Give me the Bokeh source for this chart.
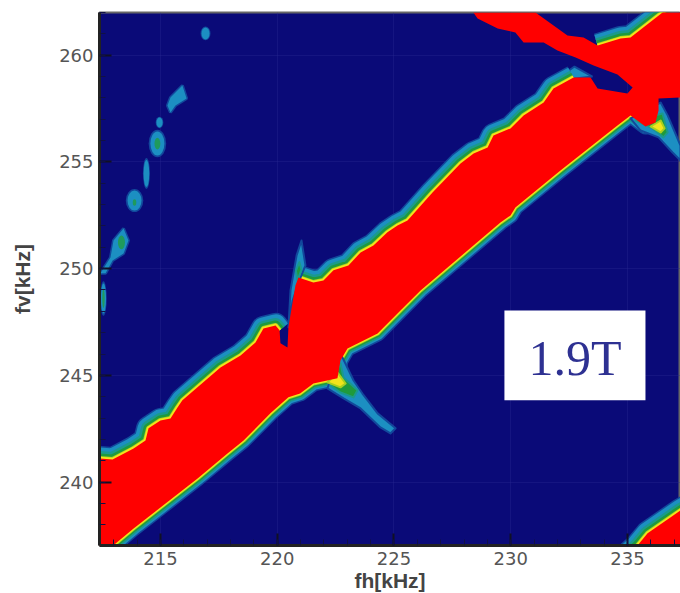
from bokeh.plotting import figure
from bokeh.models import FixedTicker
from bokeh.core.properties import value
from bokeh.embed import file_html
from bokeh.resources import INLINE

# fh [kHz] / fv [kHz] outlines of the saturated contour region
upper_left_x = [211.9,212.39,212.95,213.85,214.36,214.49,215.0,215.43,215.73,215.94,217.57,218.43,219.07,219.41,219.93,220.1]
upper_left_y = [240.9,241.11,241.06,241.58,241.95,242.52,242.89,242.98,243.5,243.83,245.37,245.93,246.54,247.2,247.34,247.11]
notch_x = [220.14,220.44,220.48,220.78]
notch_y = [246.5,246.31,247.25,249.21]
upper_right_x = [220.91,221.55,221.98,222.41,223.05,223.57,224.12,224.72,225.15,225.58,226.65,227.85,228.41,229.01,229.26,229.99,230.55,231.41,231.83,232.69]
upper_right_y = [249.59,249.35,249.45,249.92,250.15,250.76,251.09,251.7,252.02,252.26,253.57,254.93,255.4,255.68,256.24,256.57,257.18,257.78,258.44,258.96]
upper_tip_x = [233.42]
upper_tip_y = [258.96]
taper_x = [232.13,232.73,233.5,232.69]
taper_y = [259.0,259.47,259.0,258.9]
cross_x = [233.72,235.0,235.22,234.57,233.55,232.78,232.0,231.41,230.55,230.2,229.44,228.58,228.4,231.06,232.43,233.12]
cross_y = [258.44,258.21,258.49,259.1,259.52,259.89,260.22,260.59,260.59,261.06,261.25,261.72,262.0,262.0,260.92,260.83]
corner_top_x = [233.72,234.7,235.13,236.5,237.0]
corner_top_y = [260.45,260.78,260.83,262.0,262.5]
right_x = [237.27,237.27,236.33,236.33]
right_y = [262.0,258.02,257.97,257.41]
lower_right_x = [236.2,235.77,235.13,234.57,232.13,230.2,229.99,229.56,226.14,225.28,224.3,223.01,222.71,222.58]
lower_right_y = [256.85,256.66,257.18,256.71,254.6,252.87,252.49,252.16,248.98,248.04,246.96,246.26,245.7,244.86]
lower_left_x = [222.58,221.55,220.98,220.48,219.71,218.56,217.87,216.59,215.0,213.85,212.99,212.4]
lower_left_y = [244.86,244.62,244.15,243.97,243.22,241.95,241.34,240.17,238.81,237.83,237.04,236.5]
left_bottom_x = [211.9]
left_bottom_y = [236.5]

# second saturated region, lower right corner
corner_x = [234.9,235.43,235.86,236.85,237.27,237.8]
corner_y = [236.5,237.03,237.6,238.35,238.67,239.0]
corner_close_x = [237.8]
corner_close_y = [236.5]

# side spurs
spur_a_teal_x = [221.04,221.21,221.0,220.66,220.48,220.57,220.83]
spur_a_teal_y = [251.32,250.15,249.59,248.51,247.25,248.98,250.62]
spur_a_green_x = [220.95,221.04,220.87,220.8]
spur_a_green_y = [250.3,249.95,249.45,249.9]
spur_b_teal_x = [222.71,223.27,223.65,224.3,225.07,224.85,224.42,223.57,222.84,222.15]
spur_b_teal_y = [246.03,244.76,244.15,243.22,242.52,242.28,242.56,243.45,243.92,244.39]
spur_b_green_x = [222.71,222.84,223.44,223.27,222.71,222.28]
spur_b_green_y = [245.56,244.9,244.3,243.97,244.2,244.53]
spur_b_yellow_x = [222.58,222.93,222.71,222.15]
spur_b_yellow_y = [245.14,244.62,244.44,244.67]
spur_c_teal_x = [236.42,236.72,237.27,237.27,236.93,236.33,235.56,235.13]
spur_c_teal_y = [257.78,257.18,255.77,255.07,255.44,256.15,256.47,257.04]
spur_c_green_x = [236.5,236.72,236.54,236.07,235.35]
spur_c_green_y = [257.27,256.38,256.15,256.57,256.94]
spur_c_yellow_x = [236.42,236.59,236.42,235.99]
spur_c_yellow_y = [256.94,256.57,256.38,256.66]

# isolated weak line on the left
blob_x = [216.93,214.96,214.87,214.4,213.89,212.56]
blob_y = [261.02,256.85,255.86,254.46,253.19,248.6]
blob_w = [0.34,0.26,0.6,0.24,0.6,0.22]
blob_h = [0.56,0.47,1.12,1.26,0.94,1.4]
core_x = [214.87,213.89,213.33,212.56]
core_y = [255.86,253.1,251.23,248.6]
core_w = [0.25,0.15,0.3,0.1]
core_h = [0.55,0.3,0.65,0.9]
streak_a_x = [215.94,216.12,215.64,215.43,215.3,215.43]
streak_a_y = [258.58,257.97,257.64,257.32,257.64,258.02]
streak_b_x = [213.42,213.63,213.42,212.95,212.65,212.43,212.86,212.99]
streak_b_y = [251.88,251.32,250.71,250.38,249.78,249.78,250.52,251.32]

x_ticks = [215,220,225,230,235]
y_ticks = [240,245,250,255,260]
x_label = "fh[kHz]"
y_label = "fv[kHz]"
tag = "1.9T"
tag_left, tag_right, tag_bottom, tag_top = 229.73, 235.77, 243.83, 248.04

X0, X1, Y0, Y1 = 212.39, 237.27, 237.03, 262.0
NAVY = "#0a0a78"

p = figure(width=680, height=593, frame_width=581, frame_height=533, x_range=(X0, X1), y_range=(Y0, Y1),
           output_backend="svg", toolbar_location=None,
           min_border_left=99, min_border_right=0, min_border_top=12, min_border_bottom=48,
           background_fill_color=NAVY, border_fill_color="white")

p.xaxis.ticker = FixedTicker(ticks=x_ticks, minor_ticks=list(range(213, 238)))
p.yaxis.ticker = FixedTicker(ticks=y_ticks, minor_ticks=list(range(237, 263)))
p.xaxis.axis_label = x_label
p.yaxis.axis_label = y_label
for ax in (p.xaxis[0], p.yaxis[0]):
    ax.axis_line_color = "#222222"
    ax.axis_line_width = 3
    ax.major_tick_line_color = "#111122"
    ax.major_tick_line_width = 2
    ax.major_tick_in = 12
    ax.major_tick_out = 0
    ax.minor_tick_line_color = "#111144"
    ax.minor_tick_in = 6
    ax.minor_tick_out = 0
    ax.major_label_text_font = "DejaVu Sans"
    ax.major_label_text_font_size = "18px"
    ax.major_label_text_color = "#555555"
    ax.major_label_standoff = 6
    ax.axis_label_text_font = "Liberation Sans"
    ax.axis_label_text_font_size = "21px"
    ax.axis_label_text_font_style = "bold"
    ax.axis_label_text_color = "#444444"
p.xaxis[0].axis_label_standoff = 1
p.yaxis[0].axis_label_standoff = 22
p.yaxis[0].major_label_orientation = "horizontal"
p.xgrid.ticker = FixedTicker(ticks=x_ticks)
p.ygrid.ticker = FixedTicker(ticks=y_ticks)
p.grid.grid_line_color = "#2a2a92"
p.grid.grid_line_alpha = 0.35
p.outline_line_color = "#666666"
p.outline_line_width = 2

upper_edges = [(upper_left_x, upper_left_y), (upper_right_x, upper_right_y), (corner_top_x, corner_top_y), (corner_x, corner_y)]
lower_edges = [(lower_right_x, lower_right_y), (lower_left_x, lower_left_y)]

levels = [
    ("#12489c", 25, 16),
    ("#1c8fc2", 22, 13),
    ("#1a9a8c", 15, 10),
    ("#1f9a3c", 10, 7),
    ("#a8cf20", 5, 4),
    ("#f2e41c", 3.5, 2.5),
]
p.patch(taper_x, taper_y, fill_color="#1c8fc2", line_color="#12489c", line_width=2)
for color, w_up, w_low in levels:
    for ex, ey in upper_edges:
        p.line(ex, ey, line_color=color, line_width=w_up, line_join="round")
    for ex, ey in lower_edges:
        p.line(ex, ey, line_color=color, line_width=w_low, line_join="round")

p.ellipse(blob_x, blob_y, width=[w * 1.25 for w in blob_w], height=[h * 1.15 for h in blob_h], fill_color="#12489c", line_color=None)
p.patch(streak_a_x, streak_a_y, fill_color="#12489c", line_color="#12489c", line_width=3)
p.patch(streak_b_x, streak_b_y, fill_color="#12489c", line_color="#12489c", line_width=3)
p.ellipse(blob_x, blob_y, width=blob_w, height=blob_h, fill_color="#1c8fc2", line_color=None)
p.patch(streak_a_x, streak_a_y, fill_color="#1c8fc2", line_color=None)
p.patch(streak_b_x, streak_b_y, fill_color="#1c8fc2", line_color=None)
p.ellipse(core_x, core_y, width=core_w, height=core_h, fill_color="#1f9a5c", line_color=None)

for tx, ty in [(spur_a_teal_x, spur_a_teal_y), (spur_b_teal_x, spur_b_teal_y), (spur_c_teal_x, spur_c_teal_y)]:
    p.patch(tx, ty, fill_color="#1c8fc2", line_color="#12489c", line_width=2, line_join="round")
for gx, gy in [(spur_a_green_x, spur_a_green_y), (spur_b_green_x, spur_b_green_y), (spur_c_green_x, spur_c_green_y)]:
    p.patch(gx, gy, fill_color="#1f9a3c", line_color="#1a9a8c", line_width=2, line_join="round")
for yx, yy in [(spur_b_yellow_x, spur_b_yellow_y), (spur_c_yellow_x, spur_c_yellow_y)]:
    p.patch(yx, yy, fill_color="#f2e41c", line_color="#a8cf20", line_width=2, line_join="round")

red_x = (upper_left_x + notch_x + upper_right_x + upper_tip_x + cross_x + corner_top_x + right_x
         + lower_right_x + lower_left_x + left_bottom_x)
red_y = (upper_left_y + notch_y + upper_right_y + upper_tip_y + cross_y + corner_top_y + right_y
         + lower_right_y + lower_left_y + left_bottom_y)
p.patch(red_x, red_y, fill_color="#ff0000", line_color=None)
p.patch(corner_x + corner_close_x, corner_y + corner_close_y, fill_color="#ff0000", line_color=None)

p.quad(left=[tag_left], right=[tag_right], bottom=[tag_bottom], top=[tag_top], fill_color="white", line_color=None)
p.text(x=[(tag_left + tag_right) / 2], y=[(tag_bottom + tag_top) / 2 - 0.1], text=[tag],
       text_font=value("Liberation Serif"), text_font_size="50px", text_color="#2e3192",
       text_align="center", text_baseline="middle")

open("out.html", "w").write(file_html(p, INLINE))
